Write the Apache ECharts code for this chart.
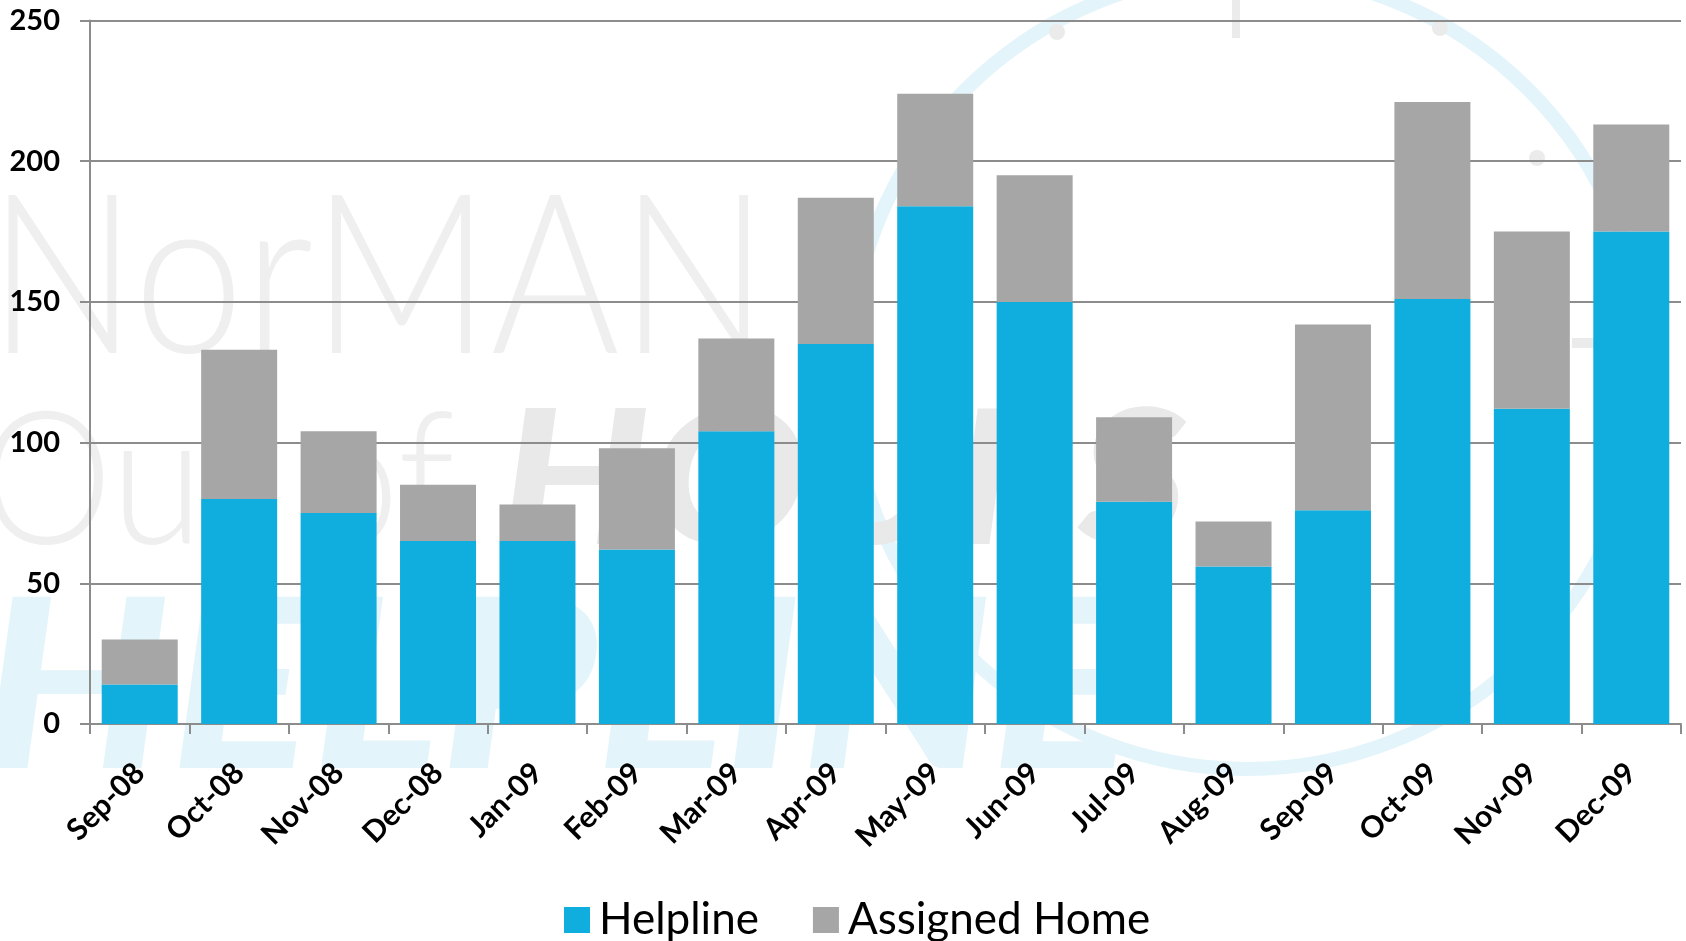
<!DOCTYPE html>
<html>
<head>
<meta charset="utf-8">
<script src="https://cdn.jsdelivr.net/npm/echarts@6/dist/echarts.min.js"></script>
<style>
  html, body { margin: 0; padding: 0; background: #fff; }
  #chart { width: 1686px; height: 941px; }
</style>
</head>
<body>
<div id="chart"></div>
<script>
const months = ['Sep-08', 'Oct-08', 'Nov-08', 'Dec-08', 'Jan-09', 'Feb-09', 'Mar-09', 'Apr-09',
  'May-09', 'Jun-09', 'Jul-09', 'Aug-09', 'Sep-09', 'Oct-09', 'Nov-09', 'Dec-09'];
const helpline = [14, 80, 75, 65, 65, 62, 104, 135, 184, 150, 79, 56, 76, 151, 112, 175];
const assignedHome = [16, 53, 29, 20, 13, 36, 33, 52, 40, 45, 30, 16, 66, 70, 63, 38];
const yTicks = [0, 50, 100, 150, 200, 250];

const FONT = 'Lato, "Open Sans", sans-serif';
const BLUE = '#0FAEDF';
const GREY = '#A6A6A6';
const AXIS = '#8C8C8C';

const chart = echarts.init(document.getElementById('chart'));

// faint logo in the background (NorMAN / Out of HOURS / HELPLINE + clock)
const watermark = [
  { type: 'circle', shape: { cx: 1247, cy: 371, r: 398 }, style: { fill: 'none', stroke: '#E3F4FA', lineWidth: 14 } },
  { type: 'circle', shape: { cx: 1057, cy: 32, r: 8 }, style: { fill: '#EBEBEB' } },
  { type: 'circle', shape: { cx: 1440, cy: 28, r: 8 }, style: { fill: '#EBEBEB' } },
  { type: 'circle', shape: { cx: 1537, cy: 158, r: 8 }, style: { fill: '#EBEBEB' } },
  { type: 'rect', shape: { x: 1232, y: 0, width: 8, height: 38 }, style: { fill: '#EBEBEB' } },
  { type: 'rect', shape: { x: 1572, y: 338, width: 50, height: 10 }, style: { fill: '#EBEBEB' } },
  { type: 'text', x: -12, y: 393, scaleX: 0.88, style: { text: 'NorMAN', font: '300 224px ' + FONT, fill: '#EFEFEF', textVerticalAlign: 'bottom' } },
  { type: 'text', x: -20, y: 577, scaleX: 0.9, style: { text: 'Out of', font: '300 186px ' + FONT, fill: '#EFEFEF', textVerticalAlign: 'bottom' } },
  { type: 'text', x: 500, y: 577, scaleX: 1.12, style: { text: 'HOURS', font: 'italic 900 186px ' + FONT, fill: '#E9E9E9', textVerticalAlign: 'bottom' } },
  { type: 'text', x: -20, y: 810, scaleX: 1.12, style: { text: 'HELPLINE', font: 'italic 900 236px ' + FONT, fill: '#E3F4FA', textVerticalAlign: 'bottom' } }
].map((el) => Object.assign({ z: -100, silent: true }, el));

const option = {
  animation: false,
  graphic: { elements: watermark },
  grid: { left: 90, right: 5, top: 20.5, bottom: 217, containLabel: false },
  legend: {
    left: 559,
    top: 893,
    itemWidth: 26,
    itemHeight: 26,
    itemGap: 54,
    icon: 'rect',
    textStyle: { fontFamily: FONT, fontSize: 44, color: '#000', padding: [0, 0, 0, 4] },
    data: ['Helpline', 'Assigned Home']
  },
  xAxis: {
    type: 'category',
    data: months,
    axisLine: { lineStyle: { color: AXIS, width: 2 } },
    axisTick: { show: true, length: 10, lineStyle: { color: AXIS, width: 2 } },
    axisLabel: {
      rotate: 45,
      interval: 0,
      margin: 44,
      fontFamily: FONT,
      fontWeight: 'bold',
      fontSize: 30,
      color: '#000'
    }
  },
  yAxis: {
    type: 'value',
    min: 0,
    max: 250,
    interval: 50,
    axisLine: { show: true, lineStyle: { color: AXIS, width: 2 } },
    axisTick: { show: true, length: 10, lineStyle: { color: AXIS, width: 2 } },
    splitLine: { lineStyle: { color: AXIS, width: 2 } },
    axisLabel: {
      margin: 30,
      fontFamily: FONT,
      fontWeight: 'bold',
      fontSize: 29,
      color: '#000',
      formatter: (v) => (yTicks.includes(v) ? String(v) : '')
    }
  },
  series: [
    {
      name: 'Helpline',
      type: 'bar',
      stack: 'total',
      barWidth: 76,
      itemStyle: { color: BLUE },
      data: helpline
    },
    {
      name: 'Assigned Home',
      type: 'bar',
      stack: 'total',
      barWidth: 76,
      itemStyle: { color: GREY },
      data: assignedHome
    }
  ]
};

chart.setOption(option);
</script>
</body>
</html>
